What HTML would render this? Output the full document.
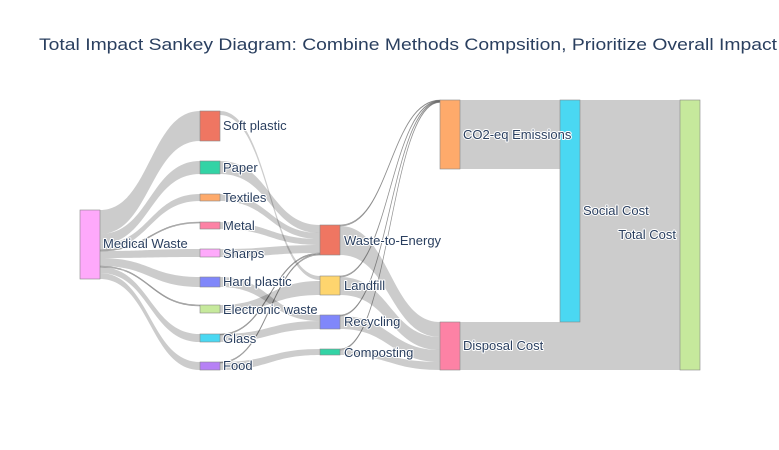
<!DOCTYPE html>
<html><head><meta charset="utf-8"><style>
html,body{margin:0;padding:0;background:#fff;}
svg{display:block;}
text{font-family:"Liberation Sans",sans-serif;fill:#2a3f5f;}
.lbl{font-size:13px;paint-order:stroke;stroke:#fff;stroke-width:2px;stroke-linejoin:round;}
</style></head><body>
<svg id="s" width="779" height="450" viewBox="0 0 779 450" xmlns="http://www.w3.org/2000/svg">
<text x="39" y="50" font-size="17" textLength="738" lengthAdjust="spacingAndGlyphs">Total Impact Sankey Diagram: Combine Methods Compsition, Prioritize Overall Impact</text>
<g id="links"></g>
<g id="nodes"></g>
<g id="labels"></g>
</svg>
<script>
var L=[
[100,210,234,200,111,141],
[100,234,244,200,161,174],
[100,244,250,200,194,201],
[100,250,251,200,222,223],
[100,251,258,200,249,257],
[100,258,266,200,277,287],
[100,266,267,200,305,306],
[100,267,273,200,334,342],
[100,273,279,200,362,370],
[220,111,115,320,276,280],
[220,161,174,320,225,233],
[220,194,201,320,233,239],
[220,222,229,320,239,245],
[220,249,257,320,245,253],
[220,334,335,320,253,254],
[220,362,363,320,254,255],
[220,277,287,320,315,321],
[220,305,313,320,281,295],
[220,334,342,320,321,329],
[220,362,370,320,349,355],
[340,225,226,440,100,100.6],
[340,226,255,440,322,337],
[340,276,277,440,100.6,101.2],
[340,277,295,440,337,350],
[340,315,316,440,101.2,101.8],
[340,316,329,440,350,362],
[340,349,350,440,101.8,102.4],
[340,350,355,440,362,370],
[460,100,169,560,100,169],
[580,100,322,680,100,322],
[460,322,370,680,322,370]
];
var g=document.getElementById("links"),h="";
L.forEach(function(l){
 var x0=l[0],x1=l[3],xm=(x0+x1)/2;
 var d="M"+x0+","+l[1]+"C"+xm+","+l[1]+" "+xm+","+l[4]+" "+x1+","+l[4]+"L"+x1+","+l[5]+"C"+xm+","+l[5]+" "+xm+","+l[2]+" "+x0+","+l[2]+"Z";
 var thin=(l[2]-l[1])<=1.5;
 h+='<path d="'+d+'" fill="#000" fill-opacity="0.2"'+(thin?' stroke="#555" stroke-opacity="0.6" stroke-width="0.6"':'')+'/>';
});
g.innerHTML=h;
var N=[
[80,210,279,"#fea9fb","Medical Waste",103,248,"start"],
[200,111,141,"#ef7662","Soft plastic",223,130,"start"],
[200,161,174,"#33d3a5","Paper",223,172,"start"],
[200,194,201,"#feaa6b","Textiles",223,202,"start"],
[200,222,229,"#fd82a5","Metal",223,230,"start"],
[200,249,257,"#fea9fb","Sharps",223,258,"start"],
[200,277,287,"#8087fa","Hard plastic",223,286,"start"],
[200,305,313,"#c6e99c","Electronic waste",223,314,"start"],
[200,334,342,"#4ad8f2","Glass",223,343,"start"],
[200,362,370,"#b681f5","Food",223,370,"start"],
[320,225,255,"#ef7662","Waste-to-Energy",344,245,"start"],
[320,276,295,"#fed56e","Landfill",344,290,"start"],
[320,315,329,"#8087fa","Recycling",344,326,"start"],
[320,349,355,"#33d3a5","Composting",344,357,"start"],
[440,100,169,"#feaa6b","CO2-eq Emissions",463,139,"start"],
[440,322,370,"#fd82a5","Disposal Cost",463,350,"start"],
[560,100,322,"#4ad8f2","Social Cost",583,215,"start"],
[680,100,370,"#c6e99c","Total Cost",676,239,"end"]
];
var nh="",lh="";
N.forEach(function(n){
 nh+='<rect x="'+n[0]+'" y="'+n[1]+'" width="20" height="'+(n[2]-n[1])+'" fill="'+n[3]+'" stroke="#888" stroke-width="0.6"/>';
 lh+='<text class="lbl" x="'+n[5]+'" y="'+n[6]+'" text-anchor="'+n[7]+'">'+n[4]+'</text>';
});
document.getElementById("nodes").innerHTML=nh;
document.getElementById("labels").innerHTML=lh;
</script>
</body></html>
